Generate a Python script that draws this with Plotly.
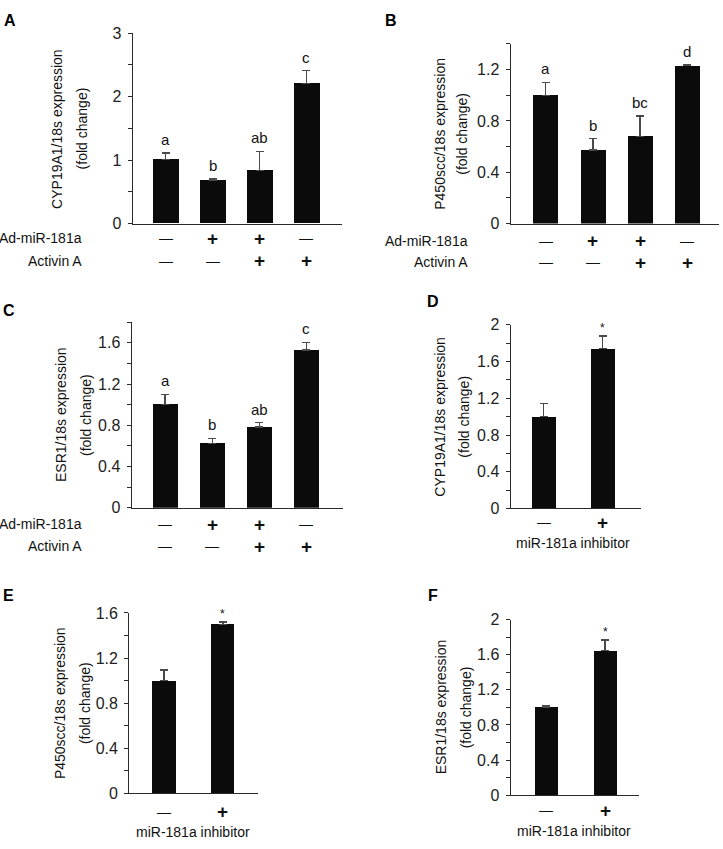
import plotly.graph_objects as go

W, H = 723, 849
FONT = "Liberation Sans, Arial, Helvetica, sans-serif"

# ---------------- data ----------------
ad_mir = ["—", "+", "+", "—"]
activin = ["—", "—", "+", "+"]
inhibitor = ["—", "+"]

a_vals = [1.01, 0.69, 0.84, 2.21]
a_err = [0.10, 0.02, 0.30, 0.20]
a_letters = ["a", "b", "ab", "c"]

b_vals = [1.00, 0.575, 0.68, 1.23]
b_err = [0.10, 0.087, 0.158, 0.008]
b_letters = ["a", "b", "bc", "d"]

c_vals = [1.00, 0.625, 0.785, 1.53]
c_err = [0.10, 0.048, 0.04, 0.075]
c_letters = ["a", "b", "ab", "c"]

d_vals = [1.00, 1.74]
d_err = [0.14, 0.14]
e_vals = [1.00, 1.50]
e_err = [0.095, 0.02]
f_vals = [1.005, 1.645]
f_err = [0.015, 0.12]
sig = ["", "*"]

titles = {
    "A": "CYP19A1/18s expression",
    "B": "P450scc/18s expression",
    "C": "ESR1/18s expression",
    "D": "CYP19A1/18s expression",
    "E": "P450scc/18s expression",
    "F": "ESR1/18s expression",
}
sub_title = "(fold change)"

# ---------------- layout geometry (pixels) ----------------
panels = [
    dict(k="A", v=a_vals, e=a_err, m=a_letters, xp=(132.7, 341.7), yp=(25.7, 220), xr=(-0.70, 3.75), ymax=3, dt=1, mn=0.5, bw=0.55,
         title_x=(57.5, 82), letter=(9.5, 12.5), rows=[("Ad-miR-181a", ad_mir, 235), ("Activin A", activin, 258)], row_right=84),
    dict(k="B", v=b_vals, e=b_err, m=b_letters, xp=(510.7, 719), yp=(36.7, 220), xr=(-0.74, 3.67), ymax=1.4, dt=0.4, mn=0.2, bw=0.53,
         title_x=(440, 462), letter=(391, 12.5), rows=[("Ad-miR-181a", ad_mir, 237.5), ("Activin A", activin, 259.5)], row_right=470),
    dict(k="C", v=c_vals, e=c_err, m=c_letters, xp=(131.7, 342.7), yp=(320.7, 510), xr=(-0.71, 3.77), ymax=1.8, dt=0.4, mn=0.2, bw=0.53,
         title_x=(61, 86), letter=(8.5, 308.5), rows=[("Ad-miR-181a", ad_mir, 527), ("Activin A", activin, 549.5)], row_right=84),
    dict(k="D", v=d_vals, e=d_err, m=sig, xp=(510.7, 641), yp=(323.3, 510.7), xr=(-0.56, 1.65), ymax=2, dt=0.4, mn=0.2, bw=0.41,
         title_x=(440, 464), letter=(433, 299), rows=[(None, inhibitor, 525)], lab=("miR-181a inhibitor", 573.3, 546)),
    dict(k="E", v=e_vals, e=e_err, m=sig, xp=(129.3, 258.3), yp=(617.3, 801.3), xr=(-0.59, 1.60), ymax=1.6, dt=0.4, mn=0.2, bw=0.40,
         title_x=(60, 85), letter=(8.5, 600), rows=[(None, inhibitor, 820)], lab=("miR-181a inhibitor", 192.7, 840.5)),
    dict(k="F", v=f_vals, e=f_err, m=sig, xp=(510.7, 639.3), yp=(624, 803.3), xr=(-0.60, 1.58), ymax=2, dt=0.4, mn=0.2, bw=0.40,
         title_x=(441, 466), letter=(433, 600), rows=[(None, inhibitor, 818.5)], lab=("miR-181a inhibitor", 574.3, 839.5)),
]

fig = go.Figure()
annotations = []
layout = {}
AXC = "#2a2a2a"


def px_x(p):
    return p / W


def px_y(p):
    return 1 - p / H


for i, P in enumerate(panels):
    n = i + 1
    xa = "x" if n == 1 else f"x{n}"
    ya = "y" if n == 1 else f"y{n}"
    xs = list(range(len(P["v"])))
    fig.add_trace(go.Bar(
        x=xs, y=P["v"], width=P["bw"], xaxis=xa, yaxis=ya,
        marker=dict(color="#0b0b0b", line=dict(width=0)),
        error_y=dict(type="data", symmetric=False, array=P["e"], arrayminus=[0] * len(xs),
                     color="#4a4a4a", thickness=1.4, width=4),
        showlegend=False, hoverinfo="skip",
    ))
    layout["xaxis" if n == 1 else f"xaxis{n}"] = dict(
        domain=[px_x(P["xp"][0]), px_x(P["xp"][1])], range=list(P["xr"]), anchor=ya,
        showline=True, linecolor=AXC, linewidth=1.3, showticklabels=False, ticks="",
        showgrid=False, zeroline=False, fixedrange=True,
    )
    layout["yaxis" if n == 1 else f"yaxis{n}"] = dict(
        domain=[px_y(P["yp"][1]), px_y(P["yp"][0])], range=[0, P["ymax"]], anchor=xa,
        showline=True, linecolor=AXC, linewidth=1.3, ticks="outside", ticklen=4, tickwidth=1.1,
        tickcolor=AXC, dtick=P["dt"], tick0=0, ticklabelstandoff=3,
        tickfont=dict(family=FONT, size=16, color="#222"),
        minor=dict(dtick=P["mn"], tick0=0, ticks="outside", ticklen=4, tickwidth=1.1, tickcolor=AXC, showgrid=False),
        showgrid=False, zeroline=False, fixedrange=True,
    )
    for j, (val, er, mk) in enumerate(zip(P["v"], P["e"], P["m"])):
        if not mk:
            continue
        star = mk == "*"
        annotations.append(dict(
            x=j, y=val + er, xref=xa, yref=ya, text=mk, showarrow=False,
            xanchor="center", yanchor="bottom", yshift=-1 if star else 3,
            font=dict(family=FONT, size=12 if star else 15, color="#111"),
        ))
    ymid = px_y((P["yp"][0] + P["yp"][1]) / 2)
    for tx, txt in zip(P["title_x"], [titles[P["k"]], sub_title]):
        annotations.append(dict(
            x=px_x(tx), y=ymid, xref="paper", yref="paper", text=txt, showarrow=False,
            textangle=-90, xanchor="center", yanchor="middle",
            font=dict(family=FONT, size=14, color="#111"),
        ))
    annotations.append(dict(
        x=px_x(P["letter"][0]), y=px_y(P["letter"][1]), xref="paper", yref="paper",
        text=f"<b>{P['k']}</b>", showarrow=False, xanchor="center", yanchor="middle",
        font=dict(family=FONT, size=16, color="#000"),
    ))
    for label, signs, ypix in P["rows"]:
        if label:
            annotations.append(dict(
                x=px_x(P["row_right"]), y=px_y(ypix), xref="paper", yref="paper", text=label,
                showarrow=False, xanchor="right", yanchor="middle",
                font=dict(family=FONT, size=14, color="#111"),
            ))
        for j, s in enumerate(signs):
            plus = s == "+"
            annotations.append(dict(
                x=j, y=px_y(ypix), xref=xa, yref="paper", text="<b>+</b>" if plus else "—",
                showarrow=False, xanchor="center", yanchor="middle",
                font=dict(family=FONT, size=19 if plus else 14, color="#111"),
            ))
    if "lab" in P:
        t, lx, ly = P["lab"]
        annotations.append(dict(
            x=px_x(lx), y=px_y(ly), xref="paper", yref="paper", text=t, showarrow=False,
            xanchor="center", yanchor="middle", font=dict(family=FONT, size=14, color="#111"),
        ))

fig.update_layout(
    width=W, height=H, margin=dict(l=0, r=0, t=0, b=0),
    paper_bgcolor="white", plot_bgcolor="white",
    annotations=annotations, bargap=0, **layout,
)
fig.write_html(
    "out.html",
    config={"displayModeBar": False},
    post_script="document.body.style.margin='0';document.body.style.overflow='hidden';",
)
